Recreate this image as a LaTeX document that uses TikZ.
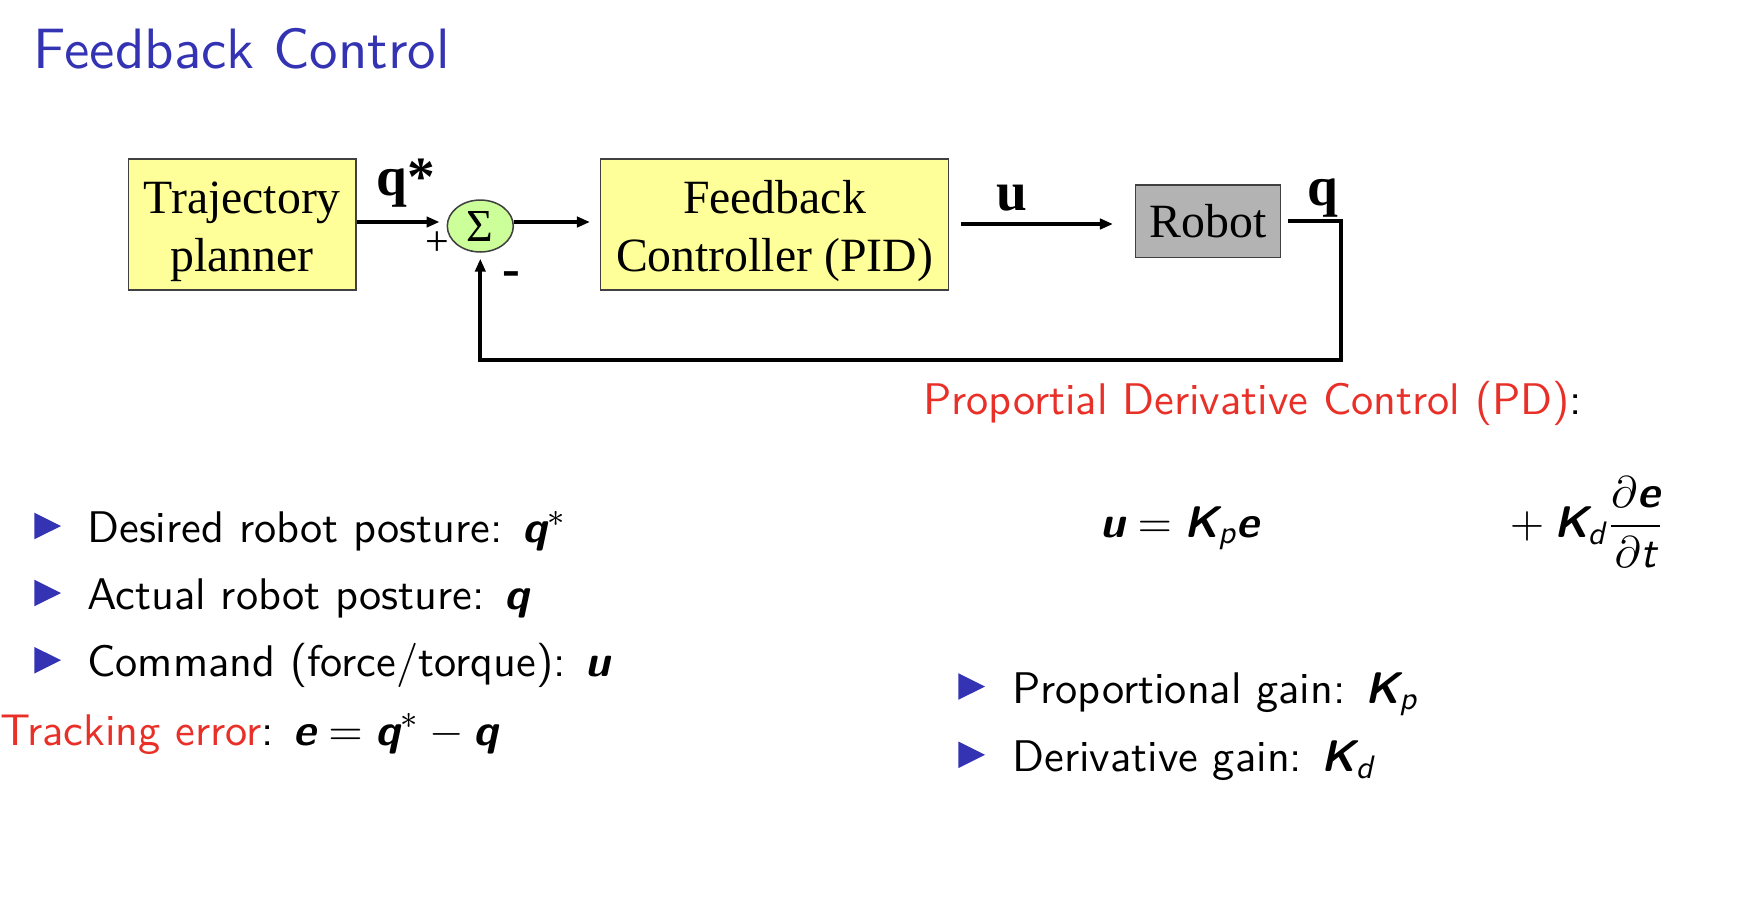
\RequirePackage{fix-cm}
\documentclass[tikz,border=0pt]{standalone}
\usepackage{amsmath}
\usepackage[no-math]{fontspec}
\setsansfont{lmsans10-regular}[Extension=.otf, BoldFont=lmsans10-bold, ItalicFont=lmsans10-oblique, BoldItalicFont=lmsans10-boldoblique]
\newfontfamily\tnr{Liberation Serif}
\usetikzlibrary{arrows.meta,shapes.geometric,calc}
\DeclareMathSizes{11.6}{11.6}{8.5}{6.2}
\definecolor{struct}{RGB}{51,51,179}
\definecolor{alertred}{RGB}{232,48,40}
\definecolor{boxyellow}{RGB}{255,255,153}
\definecolor{sumgreen}{RGB}{204,255,153}
\definecolor{robotgray}{RGB}{179,179,179}
\definecolor{edgegray}{RGB}{64,64,64}
\newcommand\mv[1]{\text{\sffamily\bfseries\itshape #1}}
\newcommand\ms[1]{\text{\sffamily\mdseries\itshape #1}}
\tikzset{
  blk/.style={draw=edgegray, line width=0.4pt, inner sep=0pt, align=center,
    font=\tnr\fontsize{12.5}{15.1}\selectfont},
  sumnode/.style={ellipse, draw=edgegray, line width=0.4pt, fill=sumgreen, inner sep=0pt,
    minimum width=17.28pt, minimum height=13.6pt, font=\tnr\fontsize{12}{14}\selectfont},
  conn/.style={line width=1pt, line join=miter},
  tip/.style={-{Triangle[length=3.4pt,width=2.7pt]}},
  lbl/.style={anchor=base west, inner sep=0pt, font=\tnr\bfseries\fontsize{14.5}{16}\selectfont},
  txt/.style={anchor=base west, inner sep=0pt, font=\sffamily\fontsize{11.6}{13.9}\selectfont},
  bullet/.style={fill=struct}
}
\begin{document}
\begin{tikzpicture}[x=0.2618pt,y=-0.2618pt]
\useasboundingbox (0,0) rectangle (1738,902);

% title
\node[anchor=base west, inner sep=0pt, text=struct, font=\sffamily\fontsize{14.9}{17}\selectfont] (title) at (33,68) {Feedback Control};

% block diagram
\node[blk, fill=boxyellow, minimum width=59.61pt, minimum height=34.3pt] (traj) at (242.2,224.5) {\rule{0pt}{12.2pt}Trajectory\\planner};
\node[blk, fill=boxyellow, minimum width=91pt, minimum height=34.3pt] (fbc) at (774.5,224.5) {\rule{0pt}{12.2pt}Feedback\\Controller (PID)};
\node[blk, fill=robotgray, minimum width=37.96pt, minimum height=18.93pt] (robot) at (1208.2,221.2) {Robot};
\node[sumnode] (sum) at (480.3,226) {Σ};

\coordinate (ya) at (0,222);
\coordinate (yb) at (0,224);
\coordinate (c1) at (1340.7,221.2);
\coordinate (c2) at (1340.7,360);

\draw[conn,tip] (traj.east |- ya) -- ($(sum.west |- ya)+(-7,0)$);
\draw[conn,tip] (sum.east |- ya) -- ($(fbc.west |- ya)+(-10,0)$);
\draw[conn,tip] ($(fbc.east |- yb)+(12,0)$) -- ($(robot.west |- yb)+(-22,0)$);
\draw[conn,tip] ($(robot.east)+(6.5,0)$) -- (c1) -- (c2) -- (sum.south |- c2) -- ($(sum.south)+(0,6)$);

\node[lbl] (qstar) at (375.7,195) {q*};
\node[lbl] (ulbl) at (995.7,210) {u};
\node[lbl] (qlbl) at (1307,205) {q};
\node[inner sep=0pt, font=\tnr\fontsize{11}{12}\selectfont] (plus) at (437.5,243.3) {+};
\node[anchor=base, inner sep=0pt, font=\tnr\bfseries\fontsize{14}{14}\selectfont] (minus) at (511.5,286) {-};

% PD heading and formula
\node[txt] (pdh) at (922.6,414) {\textcolor{alertred}{Proportial Derivative Control (PD)}:};
\node[txt] (f1) at (1099.7,537) {$\mv{u} = \mv{K}_{\ms{p}}\mv{e}$};
\node[txt] (f2) at (1509,537) {$+\mskip\medmuskip\mv{K}_{\ms{d}}\dfrac{\partial\mv{e}}{\partial\ms{t}}$};

% left bullets
\fill[bullet] (34.3,512.7) -- (34.3,539.3) -- (61,526) -- cycle;
\fill[bullet] (34.3,579.7) -- (34.3,606.3) -- (61,593) -- cycle;
\fill[bullet] (34.3,646.9) -- (34.3,673.5) -- (61,660.2) -- cycle;
\node[txt] (b1) at (86.6,542.3) {Desired robot posture: $\mv{q}^*$};
\node[txt] (b2) at (86.6,609.3) {Actual robot posture: $\mv{q}$};
\node[txt] (b3) at (86.6,676.7) {Command (force/torque): $\mv{u}$};
\node[txt] (te) at (0,745) {\textcolor{alertred}{Tracking error}: $\mv{e} = \mv{q}^* - \mv{q}$};

% right bullets
\fill[bullet] (958.3,673.2) -- (958.3,699.8) -- (985,686.5) -- cycle;
\fill[bullet] (958.3,741.5) -- (958.3,768.1) -- (985,754.8) -- cycle;
\node[txt] (g1) at (1011.6,703.3) {Proportional gain: $\mv{K}_{\ms{p}}$};
\node[txt] (g2) at (1011.6,771.6) {Derivative gain: $\mv{K}_{\ms{d}}$};
\end{tikzpicture}
\end{document}
